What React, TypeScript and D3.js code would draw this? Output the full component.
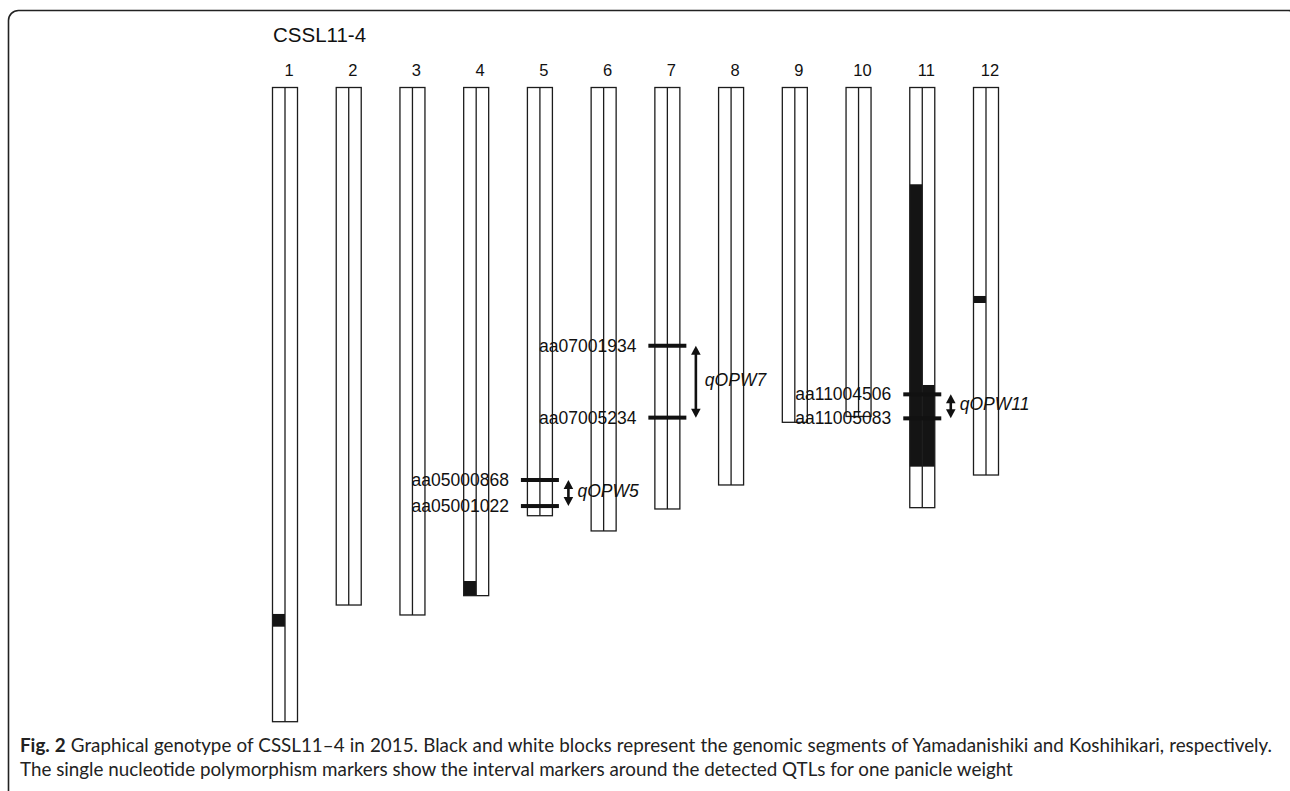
import React, { useLayoutEffect, useRef } from "react";
import * as d3 from "d3";

// ---- data (Mb-like units along each chromosome) ----
const chromosomes = ["1", "2", "3", "4", "5", "6", "7", "8", "9", "10", "11", "12"];
const chrLengths = [43.32, 35.35, 36.03, 34.71, 29.25, 30.29, 28.79, 27.15, 22.87, 22.47, 28.7, 26.47];
// black (Yamadanishiki) segments: chromosome, half ("L"/"R"), start, end
const segChr = ["1", "4", "11", "11", "12"];
const segSide = ["L", "L", "L", "R", "L"];
const segStart = [35.96, 33.71, 6.61, 20.32, 14.24];
const segEnd = [36.83, 34.71, 25.9, 25.9, 14.72];
// QTL intervals
const qtlChr = ["5", "7", "11"];
const qtlNames = ["qOPW5", "qOPW7", "qOPW11"];
const qtlMarker1 = ["aa05000868", "aa07001934", "aa11004506"];
const qtlMarker2 = ["aa05001022", "aa07005234", "aa11005083"];
const qtlPos1 = [26.81, 17.64, 20.96];
const qtlPos2 = [28.59, 22.55, 22.6];
const title = "CSSL11-4";
const captionBold = "Fig. 2";
const captionLine1 =
  " Graphical genotype of CSSL11\u20134 in 2015. Black and white blocks represent the genomic segments of Yamadanishiki and Koshihikari, respectively.";
const captionLine2 =
  "The single nucleotide polymorphism markers show the interval markers around the detected QTLs for one panicle weight";

const W = 1290;
const H = 791;

export default function App() {
  const line1Ref = useRef<SVGTextElement>(null);
  const line2Ref = useRef<SVGTextElement>(null);

  useLayoutEffect(() => {
    const l1 = line1Ref.current;
    const l2 = line2Ref.current;
    if (!l1 || !l2) return;
    const base = 15.5;
    // line 2 reaches "...around the" at x = 700 in the reference
    const upto = captionLine2.indexOf(" detected");
    const partial = l2.getSubStringLength(0, upto);
    const fs = base * (680 / partial);
    l2.setAttribute("font-size", String(fs));
    l1.setAttribute("font-size", String(fs));
    l1.setAttribute("word-spacing", "0");
    const natural1 = l1.getComputedTextLength();
    const spaces = (captionBold + captionLine1).split(" ").length - 1;
    const ws = (1252 - natural1) / spaces;
    l1.setAttribute("word-spacing", String(ws));
  }, []);

  const y = d3.scaleLinear().domain([0, d3.max(chrLengths) as number]).range([87.5, 721.7]);
  const x = d3.scalePoint<string>().domain(chromosomes).range([285, 986]);
  const halfW = 12.5;
  const stroke = "#1c1c1c";
  const font = "'Liberation Sans', Arial, sans-serif";
  const capFont = "Lato, 'Open Sans', sans-serif";

  const arrow = (ax: number, y1: number, y2: number, key: string) => {
    const hw = 4.8;
    const hl = 9;
    return (
      <g key={key} fill="#111" stroke="none">
        <rect x={ax - 1.3} y={y1 + hl - 1} width={2.6} height={y2 - y1 - 2 * hl + 2} />
        <path d={`M${ax},${y1} L${ax - hw},${y1 + hl} L${ax + hw},${y1 + hl} Z`} />
        <path d={`M${ax},${y2} L${ax - hw},${y2 - hl} L${ax + hw},${y2 - hl} Z`} />
      </g>
    );
  };

  return (
    <svg
      width={W}
      height={H}
      style={{ position: "absolute", left: 0, top: 0, display: "block", background: "#fff" }}
    >
      <rect x={8.5} y={10.5} width={1290} height={800} rx={10} ry={10} fill="#fff" stroke="#222" strokeWidth={1.6} />

      <text x={273} y={42} fontFamily={font} fontSize={20.5} fill="#111">
        {title}
      </text>

      {chromosomes.map((c, i) => {
        const cx = x(c) as number;
        const top = y(0);
        const bot = y(chrLengths[i]);
        return (
          <g key={"chr" + c}>
            <text x={cx + 4} y={76} textAnchor="middle" fontFamily={font} fontSize={16.5} fill="#111">
              {c}
            </text>
            <rect x={cx - halfW} y={top} width={2 * halfW} height={bot - top} fill="#fff" />
            {segChr.map((sc, j) =>
              sc === c ? (
                <rect
                  key={"seg" + j}
                  x={segSide[j] === "L" ? cx - halfW : cx}
                  y={y(segStart[j])}
                  width={halfW}
                  height={y(segEnd[j]) - y(segStart[j])}
                  fill="#141414"
                />
              ) : null
            )}
            <rect
              x={cx - halfW}
              y={top}
              width={2 * halfW}
              height={bot - top}
              fill="none"
              stroke={stroke}
              strokeWidth={1.3}
            />
            <line x1={cx} x2={cx} y1={top} y2={bot} stroke={stroke} strokeWidth={1.3} />
          </g>
        );
      })}

      {qtlChr.map((c, i) => {
        const cx = x(c) as number;
        const y1 = y(qtlPos1[i]);
        const y2 = y(qtlPos2[i]);
        const bl = cx - halfW - 6.5;
        const br = cx + halfW + 6.5;
        const ax = cx + halfW + 16;
        return (
          <g key={"qtl" + c}>
            <rect x={bl} y={y1 - 2} width={br - bl} height={4} fill="#111" />
            <rect x={bl} y={y2 - 2} width={br - bl} height={4} fill="#111" />
            <text x={bl - 12} y={y1 + 6} textAnchor="end" fontFamily={font} fontSize={17.5} fill="#111">
              {qtlMarker1[i]}
            </text>
            <text x={bl - 12} y={y2 + 6} textAnchor="end" fontFamily={font} fontSize={17.5} fill="#111">
              {qtlMarker2[i]}
            </text>
            {arrow(ax, y1, y2, "ar" + c)}
            <text
              x={ax + 9}
              y={(y1 + y2) / 2 + 4}
              fontFamily={font}
              fontStyle="italic"
              fontSize={17.5}
              fill="#111"
            >
              {qtlNames[i]}
            </text>
          </g>
        );
      })}

      <text ref={line1Ref} x={20} y={752} fontFamily={capFont} fontSize={15.5} fill="#222">
        <tspan fontWeight="bold">{captionBold}</tspan>
        <tspan>{captionLine1}</tspan>
      </text>
      <text ref={line2Ref} x={20} y={776} fontFamily={capFont} fontSize={15.5} fill="#222">
        {captionLine2}
      </text>
    </svg>
  );
}
